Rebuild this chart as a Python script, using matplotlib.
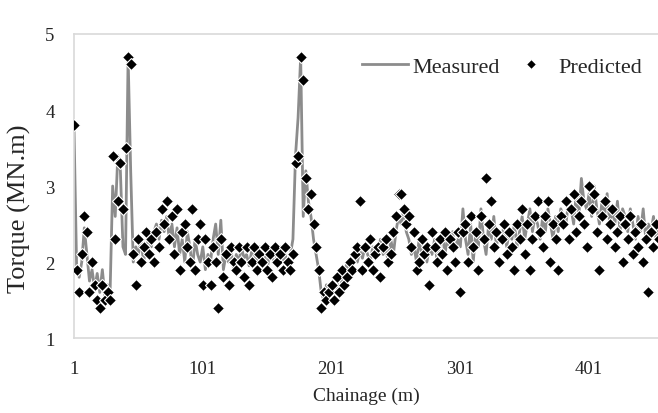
import numpy as np
import matplotlib.pyplot as plt

# chainage (m), every second metre
chainage = np.arange(1, 456, 2)

measured = [
    3.75, 1.95, 1.8, 2.0, 2.45, 2.1, 1.75, 1.9, 1.65, 1.85,
    1.6, 1.9, 1.55, 1.7, 1.6, 3.0, 2.6, 3.4, 3.2, 2.2,
    2.1, 4.7, 3.2, 2.0, 2.2, 2.1, 2.3, 2.0, 2.2, 2.3,
    2.2, 2.4, 2.5, 2.3, 2.55, 2.4, 2.6, 2.3, 2.5, 2.2,
    2.45, 2.1, 2.3, 2.0, 2.4, 2.2, 1.9, 2.3, 2.1, 2.0,
    2.2, 1.9, 2.1, 2.0, 2.3, 2.5, 2.1, 2.55, 1.9, 2.1,
    2.0, 2.15, 1.9, 2.1, 2.0, 2.2, 2.05, 2.1, 1.95, 2.15,
    2.1, 2.0, 2.2, 2.05, 2.1, 1.9, 2.15, 2.05, 2.0, 2.1,
    2.2, 2.0, 2.1, 1.95, 2.1, 2.3, 3.4, 3.9, 4.7, 2.6,
    3.2, 2.8, 2.6, 2.3, 2.1, 1.9, 1.6, 1.5, 1.7, 1.55,
    1.6, 1.8, 1.65, 1.9, 1.7, 1.85, 2.0, 1.8, 1.95, 2.1,
    2.0, 2.15, 2.05, 2.2, 2.1, 2.0, 2.2, 2.1, 2.15, 2.3,
    2.1, 2.2, 2.0, 2.3, 2.1, 2.4, 2.6, 2.5, 2.7, 2.4,
    2.3, 2.1, 2.2, 2.0, 2.3, 2.1, 2.25, 2.0, 2.2, 2.1,
    2.3, 2.0, 2.2, 2.4, 2.1, 2.3, 2.2, 2.4, 2.15, 2.3,
    2.2, 2.7, 2.3, 2.1, 2.5, 2.0, 2.4, 2.2, 2.7, 2.3,
    2.1, 2.5, 2.3, 2.6, 2.2, 2.4, 2.3, 2.5, 2.2, 2.4,
    2.3, 2.5, 2.2, 2.4, 2.6, 2.3, 2.5, 2.7, 2.4, 2.6,
    2.5, 2.3, 2.6, 2.4, 2.7, 2.5, 2.3, 2.6, 2.4, 2.7,
    2.6, 2.5, 2.8, 2.7, 2.5, 2.9, 2.6, 3.1, 2.8, 2.7,
    2.9, 2.6, 3.0, 2.7, 2.5, 2.8, 2.6, 2.9, 2.5, 2.7,
    2.5, 2.8, 2.4, 2.7, 2.6, 2.4, 2.7, 2.5, 2.3, 2.6,
    2.4, 2.7, 2.3, 2.5, 2.4, 2.6, 2.3, 2.5,
]

predicted = [
    3.8, 1.9, 1.6, 2.1, 2.6, 2.4, 1.6, 2.0, 1.7, 1.5,
    1.4, 1.7, 1.5, 1.6, 1.5, 3.4, 2.3, 2.8, 3.3, 2.7,
    3.5, 4.7, 4.6, 2.1, 1.7, 2.3, 2.0, 2.2, 2.4, 2.1,
    2.3, 2.0, 2.4, 2.2, 2.7, 2.5, 2.8, 2.3, 2.6, 2.1,
    2.7, 1.9, 2.4, 2.5, 2.2, 2.0, 2.7, 1.9, 2.3, 2.5,
    1.7, 2.3, 2.0, 1.7, 2.2, 2.0, 1.4, 2.3, 1.8, 2.1,
    1.7, 2.2, 2.0, 1.9, 2.2, 2.0, 1.8, 2.2, 1.7, 2.0,
    2.2, 1.9, 2.1, 2.0, 2.2, 1.9, 2.1, 1.8, 2.2, 2.0,
    2.1, 1.9, 2.2, 2.0, 1.9, 2.1, 3.3, 3.4, 4.7, 4.4,
    3.1, 2.7, 2.9, 2.5, 2.2, 1.9, 1.4, 1.6, 1.5, 1.6,
    1.7, 1.5, 1.8, 1.6, 1.9, 1.7, 1.8, 2.0, 1.9, 2.1,
    2.2, 2.8, 1.9, 2.2, 2.0, 2.3, 1.9, 2.1, 2.2, 1.8,
    2.2, 2.3, 2.0, 2.1, 2.4, 2.6, 2.9, 2.9, 2.7, 2.5,
    2.6, 2.2, 2.4, 1.9, 2.0, 2.3, 2.1, 2.2, 1.7, 2.4,
    2.2, 2.0, 2.3, 2.1, 2.4, 1.9, 2.3, 2.2, 2.0, 2.4,
    1.6, 2.4, 2.5, 2.0, 2.6, 2.2, 2.4, 1.9, 2.6, 2.3,
    3.1, 2.5, 2.8, 2.2, 2.4, 2.0, 2.3, 2.5, 2.1, 2.4,
    2.2, 1.9, 2.5, 2.3, 2.7, 2.1, 2.5, 1.9, 2.3, 2.6,
    2.8, 2.4, 2.2, 2.6, 2.8, 2.0, 2.5, 2.3, 1.9, 2.6,
    2.5, 2.8, 2.3, 2.7, 2.9, 2.4, 2.6, 2.8, 2.5, 2.2,
    3.0, 2.7, 2.9, 2.4, 1.9, 2.6, 2.8, 2.3, 2.5, 2.7,
    2.2, 2.4, 2.6, 2.0, 2.5, 2.3, 2.6, 2.1, 2.4, 2.2,
    2.5, 2.0, 2.3, 1.6, 2.4, 2.2, 2.5, 2.3,
]

xticks = [1, 101, 201, 301, 401]
yticks = [1, 2, 3, 4, 5]

plt.rcParams['font.family'] = ['Liberation Serif', 'DejaVu Serif']

fig = plt.figure(figsize=(6.58, 4.14), dpi=100)
ax = fig.add_axes([0.1125, 0.181, 0.8875, 0.7345])

ax.plot(chainage, measured, color='#8c8c8c', lw=2.0, label='Measured', zorder=2)
ax.plot(chainage, predicted, ls='none', marker='D', ms=6, mfc='black',
        mec='white', mew=0.8, label='Predicted', zorder=3)

ax.set_xlim(1, 454.5)
ax.set_ylim(1, 5)
ax.set_xticks(xticks)
ax.set_yticks(yticks)
ax.tick_params(length=0, labelsize=13.5, colors='#262626')
ax.tick_params(axis='x', pad=16)
ax.tick_params(axis='y', pad=14)

for s in ['top', 'left', 'bottom']:
    ax.spines[s].set_color('#d9d9d9')
    ax.spines[s].set_linewidth(1.2)
ax.spines['right'].set_visible(False)

ax.set_xlabel('Chainage (m)', fontsize=14, color='#262626', labelpad=7)
ax.set_ylabel('Torque (MN.m)', fontsize=19, color='#262626')
ax.yaxis.set_label_coords(-0.073, 0.43)

leg = ax.legend(loc='upper right', bbox_to_anchor=(1.0, 0.978), ncol=2,
                frameon=False, fontsize=16, handlelength=2.07,
                handletextpad=0.2, columnspacing=0.4, borderaxespad=0.3,
                labelcolor='#262626', markerscale=0.8)

fig.savefig('out.png', dpi=100)
